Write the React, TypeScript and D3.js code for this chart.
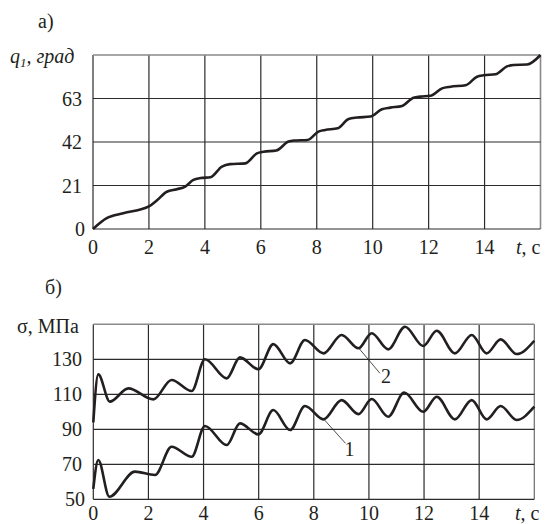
import React from "react";
import * as d3 from "d3";

// Panel a) q1(t)
const qT = [0, 0.49, 1.08, 2.0, 2.3, 2.64, 3.0, 3.3, 3.59, 3.85, 4.2, 4.61, 4.9, 5.45, 5.86, 6.1, 6.55, 6.99, 7.2, 7.67, 8.06, 8.3, 8.75, 9.14, 9.44, 9.92, 10.33, 10.63, 11.05, 11.46, 11.7, 12.06, 12.48, 12.78, 13.32, 13.73, 13.97, 14.39, 14.8, 15.04, 15.52, 16.0];
const qV = [0, 5.2, 7.6, 10.9, 14.0, 18.0, 19.2, 20.5, 23.7, 24.6, 25.0, 30.1, 31.3, 31.7, 36.5, 37.3, 37.9, 42.2, 42.7, 43.0, 47.0, 47.8, 48.6, 53.1, 53.8, 54.3, 57.8, 58.6, 59.4, 63.4, 63.9, 64.3, 67.9, 68.7, 69.4, 73.5, 74.2, 74.7, 78.5, 79.2, 79.4, 84.0];
const qTicks = [0, 21, 42, 63];
const tTicks = [0, 2, 4, 6, 8, 10, 12, 14];

// Panel б) sigma(t)
const s2T = [0, 0.18, 0.6, 1.27, 2.18, 2.84, 3.57, 4.05, 4.84, 5.32, 5.99, 6.53, 7.14, 7.68, 8.35, 9.01, 9.62, 10.1, 10.7, 11.31, 11.97, 12.46, 13.12, 13.73, 14.27, 14.78, 15.36, 16.0];
const s2V = [94, 121.4, 105.8, 113.4, 107.1, 118.2, 111.9, 130, 119.1, 131.1, 124.3, 138.7, 127.7, 141, 133.4, 143.9, 136.3, 144.9, 135.7, 148.6, 137.6, 146.3, 133.4, 143.9, 133.4, 141.4, 133, 140.6];
const s1T = [0, 0.18, 0.58, 1.51, 2.24, 2.84, 3.57, 4.05, 4.84, 5.32, 5.99, 6.53, 7.14, 7.68, 8.35, 9.01, 9.62, 10.1, 10.7, 11.28, 11.97, 12.46, 13.12, 13.73, 14.27, 14.78, 15.36, 16.0];
const s1V = [56, 72.5, 51.5, 65.8, 63.9, 80, 74.3, 91.9, 81, 93.4, 87.1, 101, 89.6, 103.3, 95.7, 106.7, 98.7, 107.3, 97.2, 111, 100, 108.6, 95.7, 106.7, 95.7, 103.3, 95.3, 102.9];
const sTicks = [50, 70, 90, 110, 130];

const INK = "#231f20";
const GRID = "#2b2b2b";
const FONT = "'Times New Roman', Times, 'Liberation Serif', Tinos, 'DejaVu Serif', serif";
const ts: React.CSSProperties = { fontFamily: FONT, fontSize: 20 };

export default function App() {
  const xA = d3.scaleLinear().domain([0, 16]).range([93, 540.5]);
  const yA = d3.scaleLinear().domain([0, 84]).range([229, 55]);
  const xB = d3.scaleLinear().domain([0, 16]).range([93.3, 534.3]);
  const yB = d3.scaleLinear().domain([50, 150]).range([499.3, 324.3]);

  const lineA = d3.line<number>().x((d, i) => xA(qT[i])).y((d) => yA(d)).curve(d3.curveMonotoneX);
  const line2 = d3.line<number>().x((d, i) => xB(s2T[i])).y((d) => yB(d)).curve(d3.curveMonotoneX);
  const line1 = d3.line<number>().x((d, i) => xB(s1T[i])).y((d) => yB(d)).curve(d3.curveMonotoneX);

  const gridA = [...tTicks, 16];
  const gridAy = [...qTicks, 84];
  const gridBy = [...sTicks, 150];

  return (
    <svg width={551} height={524} style={{ position: "absolute", left: 0, top: 0, background: "#fff", fontFamily: FONT }} fill={INK}>
      <rect x={0} y={0} width={551} height={524} fill="#fff" />
      {/* Panel a */}
      <text x={38} y={28} style={ts}>а)</text>
      <text x={10} y={63} style={{ ...ts, fontStyle: "italic" }}>
        q<tspan style={{ fontSize: 13 }} dy={4}>1</tspan><tspan dy={-4}>, град</tspan>
      </text>
      {gridA.map((t) => (
        <line key={"ax" + t} x1={xA(t)} x2={xA(t)} y1={yA(0)} y2={yA(84)} stroke={t === 16 ? "#8a8a8a" : GRID} strokeWidth={t === 16 ? 1.6 : 1.2} />
      ))}
      {gridAy.map((v) => (
        <line key={"ay" + v} x1={xA(0)} x2={xA(16)} y1={yA(v)} y2={yA(v)} stroke={v === 84 ? "#8a8a8a" : GRID} strokeWidth={v === 84 ? 1.6 : 1.2} />
      ))}
      {qTicks.map((v) => (
        <text key={"aty" + v} x={v === 0 ? 85 : 82} y={yA(v)} dy="0.35em" textAnchor="end" style={ts}>{v}</text>
      ))}
      {tTicks.map((t) => (
        <text key={"atx" + t} x={xA(t)} y={254} textAnchor="middle" style={ts}>{t}</text>
      ))}
      <text x={516} y={254} style={ts}><tspan style={{ fontStyle: "italic" }}>t</tspan>, с</text>
      <path d={lineA(qV) || ""} fill="none" stroke={INK} strokeWidth={2.6} />

      {/* Panel b */}
      <text x={45} y={294} style={ts}>б)</text>
      <text x={17} y={333} style={ts}>σ, МПа</text>
      {gridA.map((t) => (
        <line key={"bx" + t} x1={xB(t)} x2={xB(t)} y1={yB(50)} y2={yB(150)} stroke={t === 16 ? "#6a6a6a" : GRID} strokeWidth={1.2} />
      ))}
      {gridBy.map((v) => (
        <line key={"by" + v} x1={xB(0)} x2={xB(16)} y1={yB(v)} y2={yB(v)} stroke={v === 150 ? "#8a8a8a" : GRID} strokeWidth={v === 150 ? 1.6 : 1.2} />
      ))}
      {sTicks.map((v) => (
        <text key={"bty" + v} x={v === 50 ? 85 : 82} y={yB(v)} dy="0.35em" textAnchor="end" style={ts}>{v}</text>
      ))}
      {tTicks.map((t) => (
        <text key={"btx" + t} x={xB(t)} y={520} textAnchor="middle" style={ts}>{t}</text>
      ))}
      <text x={515} y={520} style={ts}><tspan style={{ fontStyle: "italic" }}>t</tspan>, с</text>
      <path d={line2(s2V) || ""} fill="none" stroke={INK} strokeWidth={2.6} />
      <path d={line1(s1V) || ""} fill="none" stroke={INK} strokeWidth={2.6} />

      {/* Curve labels */}
      <line x1={xB(9.6)} y1={yB(137)} x2={xB(10.4)} y2={yB(122)} stroke={INK} strokeWidth={0.8} />
      <text x={xB(10.4) + 1} y={yB(122) + 10} style={ts}>2</text>
      <line x1={xB(8.35)} y1={yB(96)} x2={xB(9.15)} y2={yB(82)} stroke={INK} strokeWidth={0.8} />
      <text x={xB(9.15) - 1} y={yB(82) + 13} style={ts}>1</text>
    </svg>
  );
}
